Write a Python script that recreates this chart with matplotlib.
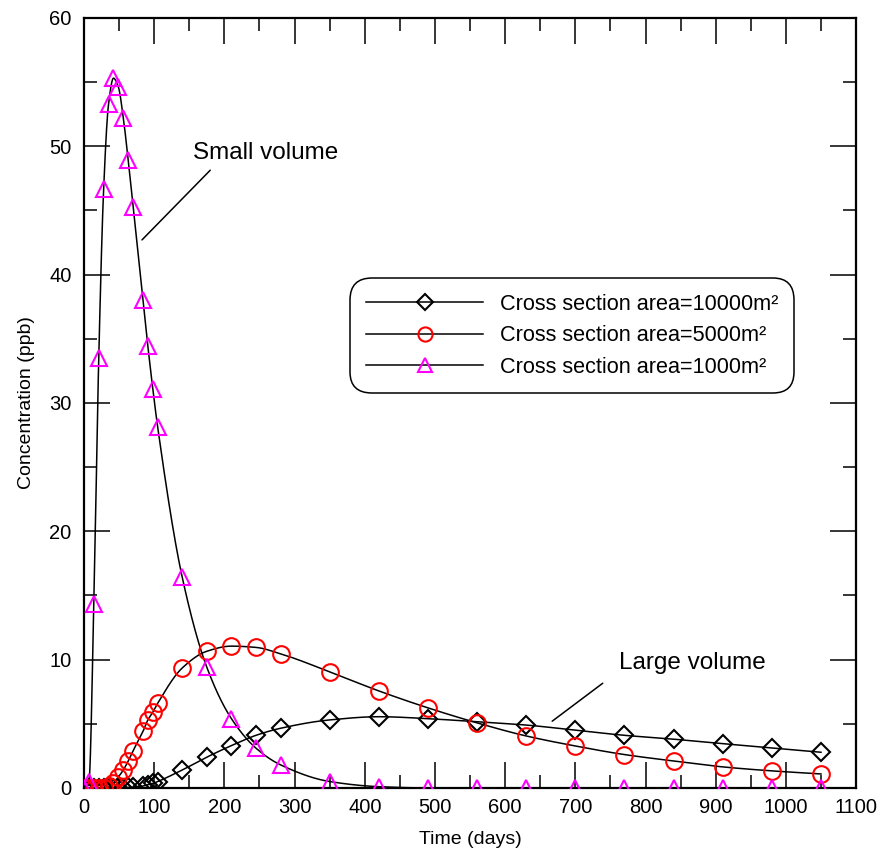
import numpy as np
import matplotlib.pyplot as plt
from matplotlib.ticker import MultipleLocator

plt.rcParams['font.family'] = ['Liberation Sans', 'DejaVu Sans']

# sampling days (weekly early on, then every 5 and 10 weeks)
days = [0, 7, 14, 21, 28, 35, 42, 49, 56, 63, 70, 84, 91, 98, 105,
        140, 175, 210, 245, 280, 350, 420, 490, 560, 630, 700, 770, 840, 910, 980, 1050]

conc_10000 = [0, 0, 0, 0, 0, 0, 0, 0.01, 0.02, 0.04, 0.07, 0.15, 0.25, 0.35, 0.5,
              1.4, 2.4, 3.3, 4.1, 4.65, 5.3, 5.55, 5.4, 5.15, 4.9, 4.5, 4.1, 3.8, 3.45, 3.12, 2.78]
conc_5000 = [0, 0, 0, 0, 0.02, 0.12, 0.4, 0.86, 1.4, 2.1, 2.9, 4.4, 5.3, 5.9, 6.6,
             9.35, 10.65, 11.05, 10.95, 10.45, 9.05, 7.56, 6.24, 5.07, 4.05, 3.27, 2.6, 2.1, 1.64, 1.33, 1.09]
conc_1000 = [0, 0.5, 14.3, 33.5, 46.7, 53.3, 55.3, 54.6, 52.2, 48.9, 45.3, 38.0, 34.4, 31.1, 28.1,
             16.4, 9.4, 5.4, 3.1, 1.8, 0.5, 0.1, 0, 0, 0, 0, 0, 0, 0, 0, 0]

labels = ['Cross section area=10000m\u00b2',
          'Cross section area=5000m\u00b2',
          'Cross section area=1000m\u00b2']


def pchip(x, y, xnew):
    # monotone cubic, just for drawing a smooth line through the points
    x = np.asarray(x, float)
    y = np.asarray(y, float)
    h = np.diff(x)
    d = np.diff(y) / h
    m = np.zeros_like(y)
    for k in range(1, len(x) - 1):
        if d[k-1] * d[k] > 0:
            w1 = 2*h[k] + h[k-1]
            w2 = h[k] + 2*h[k-1]
            m[k] = (w1 + w2) / (w1/d[k-1] + w2/d[k])
    m[0] = d[0]
    m[-1] = d[-1]
    idx = np.clip(np.searchsorted(x, xnew) - 1, 0, len(x) - 2)
    t = (xnew - x[idx]) / h[idx]
    h00 = 2*t**3 - 3*t**2 + 1
    h10 = t**3 - 2*t**2 + t
    h01 = -2*t**3 + 3*t**2
    h11 = t**3 - t**2
    return h00*y[idx] + h10*h[idx]*m[idx] + h01*y[idx+1] + h11*h[idx]*m[idx+1]


fig = plt.figure(figsize=(8.89, 8.5), dpi=100)
ax = fig.add_axes([0.0945, 0.073, 0.8685, 0.906])

xs = np.linspace(0, 1050, 3000)
series = [(conc_10000, 'D', 'black', 9.5), (conc_5000, 'o', 'red', 12), (conc_1000, '^', '#ff00ff', 11.5)]
for (vals, mk, col, ms), lab in zip(series, labels):
    ax.plot(xs, pchip(days, vals, xs), color='black', lw=1.1, zorder=2)
    ax.plot(days, vals, ls='none', marker=mk, ms=ms, mfc='none', mec=col, mew=1.5, zorder=3)
    # legend proxy
    ax.plot([], [], color='black', lw=1.1, marker=mk, ms=ms*0.85, mfc='none', mec=col, mew=1.5, label=lab)

ax.annotate('Small volume', xy=(82.6, 42.7), xytext=(155, 49.5), fontsize=17.5,
            va='center', ha='left',
            arrowprops=dict(arrowstyle='-', color='black', lw=1.1, shrinkA=0, shrinkB=0,
                            relpos=(0.12, -0.3)))
ax.annotate('Large volume', xy=(667, 5.2), xytext=(762, 9.7), fontsize=17.5,
            va='center', ha='left',
            arrowprops=dict(arrowstyle='-', color='black', lw=1.1, shrinkA=0, shrinkB=0,
                            relpos=(-0.11, -0.4)))

ax.set_xlim(0, 1100)
ax.set_ylim(0, 60)
ax.xaxis.set_major_locator(MultipleLocator(100))
ax.xaxis.set_minor_locator(MultipleLocator(50))
ax.yaxis.set_major_locator(MultipleLocator(10))
ax.yaxis.set_minor_locator(MultipleLocator(5))
ax.tick_params(which='both', direction='in', top=True, right=True, width=1.1, labelsize=14.5)
ax.tick_params(which='major', length=19)
ax.tick_params(which='minor', length=9.5)
ax.tick_params(axis='y', pad=9)
ax.tick_params(axis='x', pad=7)
for sp in ax.spines.values():
    sp.set_linewidth(1.6)

ax.set_xlabel('Time (days)', fontsize=14, labelpad=10)
ax.set_ylabel('Concentration (ppb)', fontsize=14, labelpad=10)

leg = ax.legend(loc='upper left', bbox_to_anchor=(0.331, 0.676), fontsize=15.6,
                handlelength=5.4, handletextpad=0.8, labelspacing=0.48,
                borderpad=0.72, fancybox=True, framealpha=1, edgecolor='black')
leg.get_frame().set_linewidth(1.1)
leg.get_frame().set_boxstyle('round', pad=0, rounding_size=1.0)

fig.savefig('out.png', dpi=100)
